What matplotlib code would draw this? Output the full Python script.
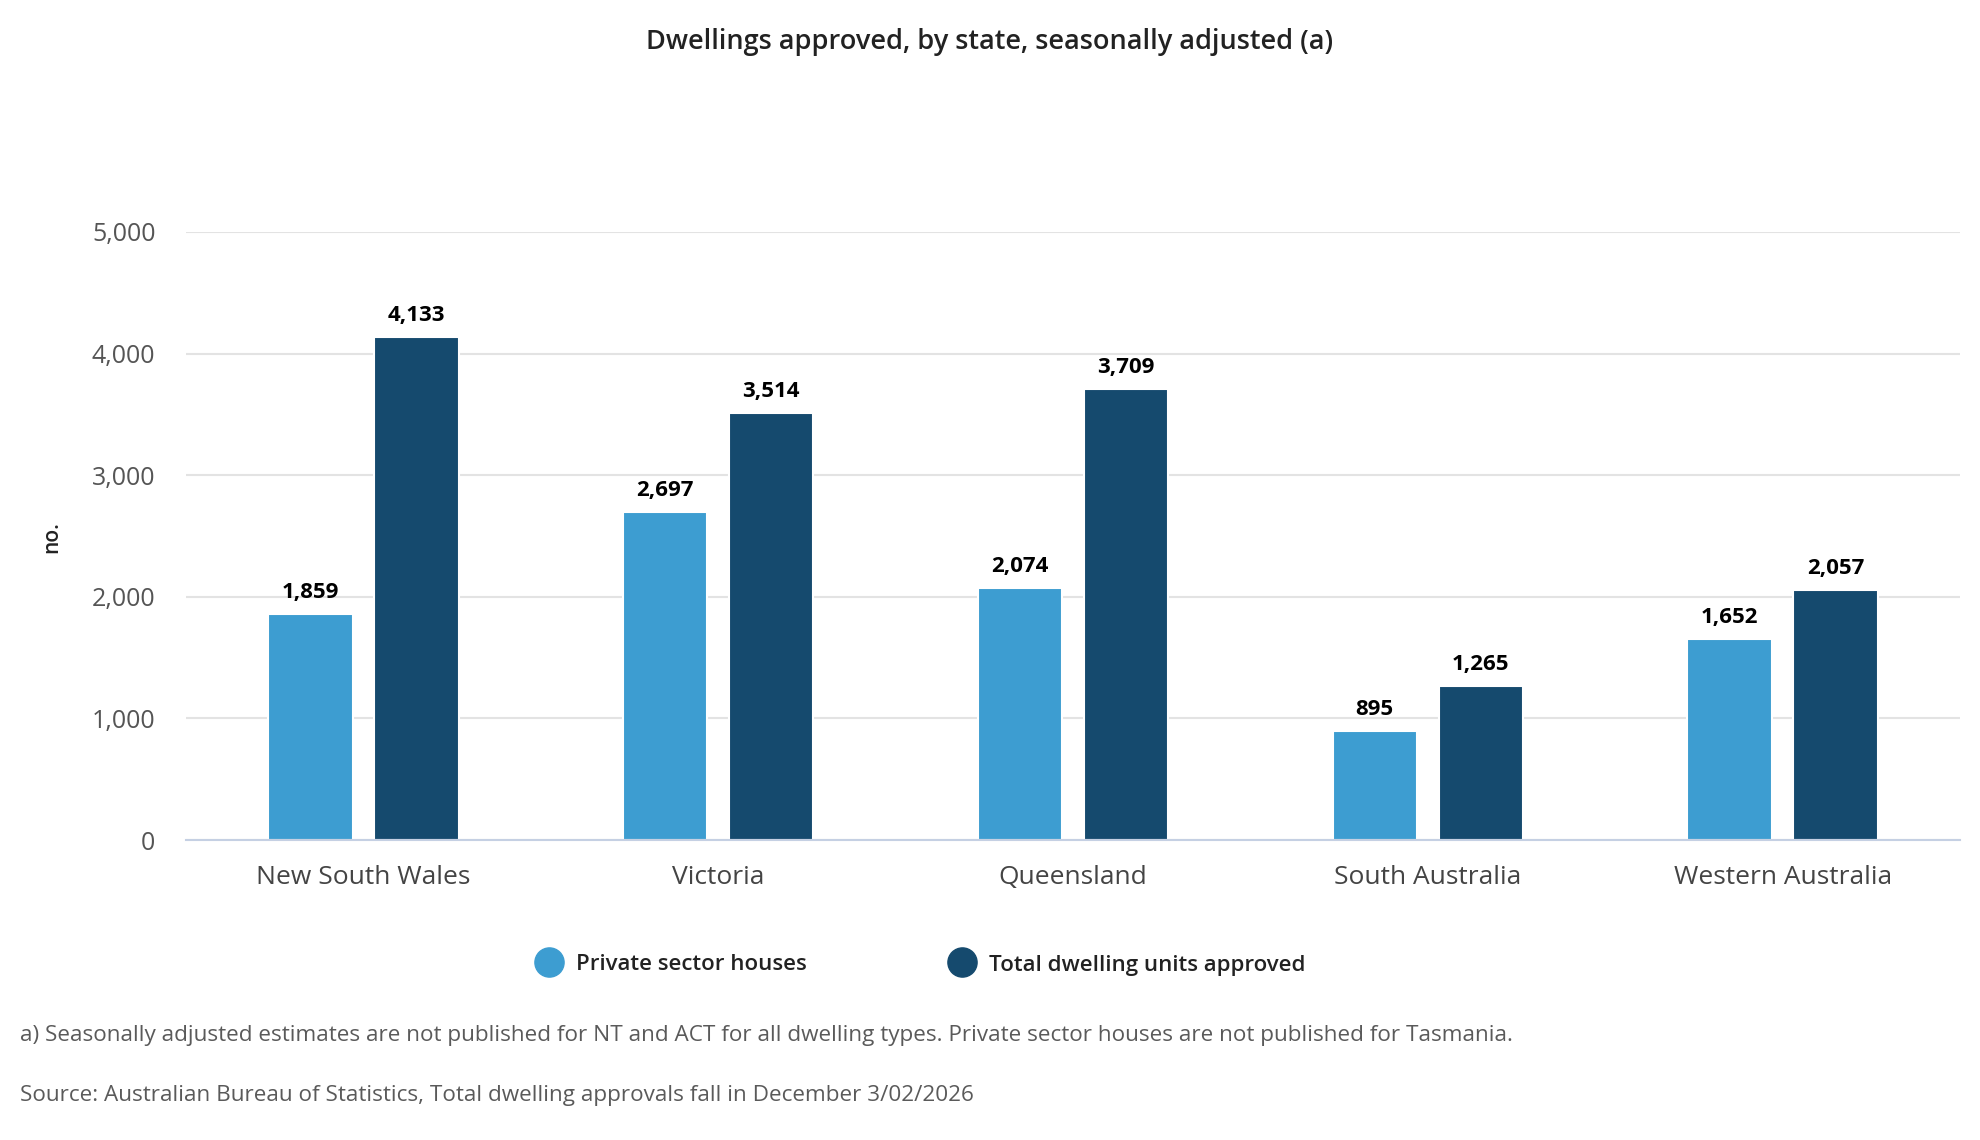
import matplotlib
matplotlib.use("Agg")
import matplotlib.pyplot as plt
from matplotlib.lines import Line2D
from matplotlib.ticker import FuncFormatter
import numpy as np

plt.rcParams['font.family'] = ['Open Sans', 'DejaVu Sans']

# data
states = ["New South Wales", "Victoria", "Queensland", "South Australia", "Western Australia"]
private_houses = [1859, 2697, 2074, 895, 1652]
total_dwellings = [4133, 3514, 3709, 1265, 2057]
series_names = ["Private sector houses", "Total dwelling units approved"]

light = "#3D9DD1"
dark = "#154A6E"

W, H = 1980, 1140
fig = plt.figure(figsize=(W / 100, H / 100), dpi=100)
ax = fig.add_axes([186 / W, 1 - 840 / H, (1960 - 186) / W, (840 - 232) / H])

x = np.arange(len(states))
bw = 0.238
off = 0.1495
b1 = ax.bar(x - off, private_houses, bw, color=light, edgecolor="white", linewidth=1.5, zorder=2)
b2 = ax.bar(x + off, total_dwellings, bw, color=dark, edgecolor="white", linewidth=1.5, zorder=2)

for bars, vals in [(b1, private_houses), (b2, total_dwellings)]:
    for bar, v in zip(bars, vals):
        ax.annotate(f"{v:,}", (bar.get_x() + bar.get_width() / 2, v),
                    xytext=(0, 8), textcoords="offset points",
                    ha="center", va="bottom", fontsize=16, fontweight="bold", color="#000000")

ax.set_xlim(-0.5, len(states) - 0.5)
ax.set_ylim(0, 5000)
ax.set_yticks(range(0, 5001, 1000))
ax.yaxis.set_major_formatter(FuncFormatter(lambda v, p: f"{int(v):,}"))
ax.set_xticks(x)
ax.set_xticklabels(states)
ax.tick_params(axis="y", length=0, pad=22, labelsize=18, labelcolor="#555555")
ax.tick_params(axis="x", length=0, pad=18, labelsize=19, labelcolor="#444444")
ax.grid(axis="y", color="#E3E3E3", linewidth=1.5, zorder=0)
ax.set_axisbelow(True)
for s in ["top", "right", "left"]:
    ax.spines[s].set_visible(False)
ax.spines["bottom"].set_color("#C5D0E3")
ax.spines["bottom"].set_linewidth(1.5)
ax.spines["bottom"].set_zorder(3)

ax.set_ylabel("no.", fontsize=15, fontweight="semibold", color="#222222")
ax.yaxis.set_label_coords((62 - 186) / (1960 - 186), (840 - 537) / (840 - 232))

fig.text(0.5, 1 - 42 / H, "Dwellings approved, by state, seasonally adjusted (a)",
         ha="center", va="center", fontsize=19.5, fontweight="semibold", color="#222222")

# legend
for mx, col, name in [(549, light, series_names[0]), (962, dark, series_names[1])]:
    fig.add_artist(Line2D([mx / W], [1 - 962 / H], marker="o", markersize=21,
                          color=col, linestyle="none", transform=fig.transFigure))
    fig.text((mx + 27) / W, 1 - 965 / H, name, ha="left", va="center",
             fontsize=16, fontweight="semibold", color="#222222")

fig.text(20 / W, 1 - 1036 / H,
         "a) Seasonally adjusted estimates are not published for NT and ACT for all dwelling types. "
         "Private sector houses are not published for Tasmania.",
         ha="left", va="center", fontsize=16.2, color="#5A5A5A")
fig.text(20 / W, 1 - 1096 / H,
         "Source: Australian Bureau of Statistics, Total dwelling approvals fall in December 3/02/2026",
         ha="left", va="center", fontsize=16.2, color="#5A5A5A")

fig.savefig("out.png", dpi=100, facecolor="white")
